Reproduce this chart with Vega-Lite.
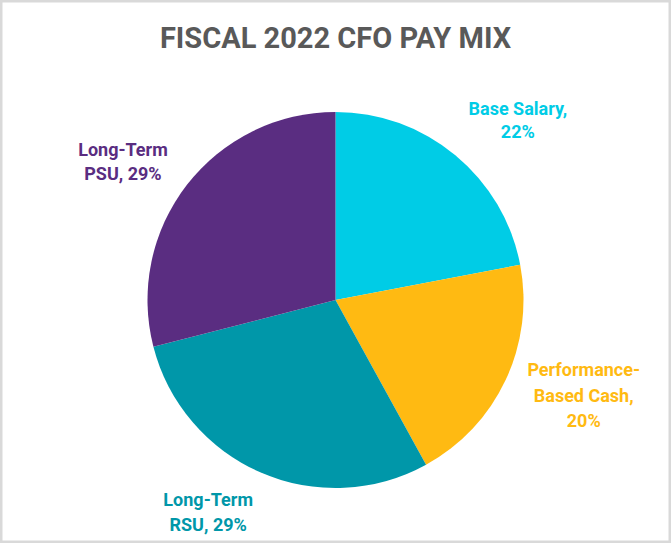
{
  "$schema": "https://vega.github.io/schema/vega-lite/v6.json",
  "width": 671,
  "height": 543,
  "autosize": {"type": "none"},
  "padding": 0,
  "background": "white",
  "view": {"stroke": "#D9D9D9", "strokeWidth": 5, "fill": "white"},
  "config": {
    "view": {"stroke": "#D9D9D9", "strokeWidth": 5},
    "font": "Roboto"
  },
  "title": {
    "text": "FISCAL 2022 CFO PAY MIX",
    "font": "Roboto",
    "fontSize": 29,
    "fontWeight": "bold",
    "color": "#595959",
    "anchor": "middle",
    "frame": "group",
    "offset": -54
  },
  "data": {
    "values": [
      {"slice": "Base Salary", "pct": 22, "rank": 1, "label": "Base Salary,\n22%"},
      {"slice": "Performance-Based Cash", "pct": 20, "rank": 2, "label": "Performance-\nBased Cash,\n20%"},
      {"slice": "Long-Term RSU", "pct": 29, "rank": 3, "label": "Long-Term\nRSU, 29%"},
      {"slice": "Long-Term PSU", "pct": 29, "rank": 4, "label": "Long-Term\nPSU, 29%"}
    ]
  },
  "encoding": {
    "theta": {"field": "pct", "type": "quantitative", "stack": true},
    "order": {"field": "rank", "type": "quantitative"},
    "color": {
      "field": "slice",
      "type": "nominal",
      "scale": {
        "domain": ["Base Salary", "Performance-Based Cash", "Long-Term RSU", "Long-Term PSU"],
        "range": ["#00CCE6", "#FFBA12", "#0097A9", "#5A2D81"]
      },
      "legend": null
    }
  },
  "layer": [
    {"mark": {"type": "arc", "outerRadius": 188, "yOffset": 28.5}},
    {
      "mark": {"type": "text", "radius": 250, "yOffset": 28.5, "dx": 23, "dy": 3, "lineBreak": "\n", "fontSize": 18, "fontWeight": "bold", "lineHeight": 23, "align": "center", "baseline": "middle"},
      "encoding": {"text": {"condition": {"test": "datum.rank == 1", "field": "label"}, "value": ""}}
    },
    {
      "mark": {"type": "text", "radius": 250, "yOffset": 28.5, "dx": 22, "dy": -35, "lineBreak": "\n", "fontSize": 18, "fontWeight": "bold", "lineHeight": 25.5, "align": "center", "baseline": "middle"},
      "encoding": {"text": {"condition": {"test": "datum.rank == 2", "field": "label"}, "value": ""}}
    },
    {
      "mark": {"type": "text", "radius": 235, "yOffset": 28.5, "dx": -34, "dy": -15, "lineBreak": "\n", "fontSize": 18, "fontWeight": "bold", "lineHeight": 25, "align": "center", "baseline": "middle"},
      "encoding": {"text": {"condition": {"test": "datum.rank == 3", "field": "label"}, "value": ""}}
    },
    {
      "mark": {"type": "text", "radius": 250, "yOffset": 28.5, "dx": -15, "dy": 4, "lineBreak": "\n", "fontSize": 18, "fontWeight": "bold", "lineHeight": 24, "align": "center", "baseline": "middle"},
      "encoding": {"text": {"condition": {"test": "datum.rank == 4", "field": "label"}, "value": ""}}
    }
  ]
}
